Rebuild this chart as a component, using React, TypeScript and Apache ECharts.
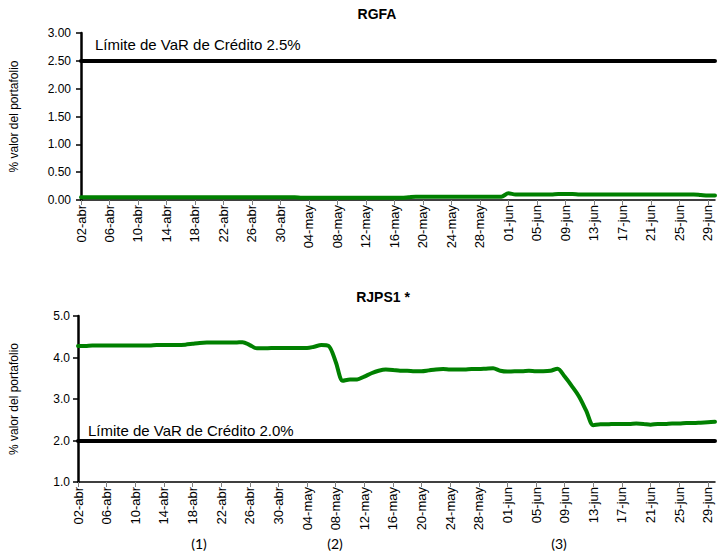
import React, { useEffect, useRef } from "react";
import * as echarts from "echarts";

const categories = [
  "02-abr", "03-abr", "04-abr", "05-abr", "06-abr", "07-abr", "08-abr", "09-abr", "10-abr", "11-abr",
  "12-abr", "13-abr", "14-abr", "15-abr", "16-abr", "17-abr", "18-abr", "19-abr", "20-abr", "21-abr",
  "22-abr", "23-abr", "24-abr", "25-abr", "26-abr", "27-abr", "28-abr", "29-abr", "30-abr",
  "01-may", "02-may", "03-may", "04-may", "05-may", "06-may", "07-may", "08-may", "09-may", "10-may",
  "11-may", "12-may", "13-may", "14-may", "15-may", "16-may", "17-may", "18-may", "19-may", "20-may",
  "21-may", "22-may", "23-may", "24-may", "25-may", "26-may", "27-may", "28-may", "29-may", "30-may", "31-may",
  "01-jun", "02-jun", "03-jun", "04-jun", "05-jun", "06-jun", "07-jun", "08-jun", "09-jun", "10-jun",
  "11-jun", "12-jun", "13-jun", "14-jun", "15-jun", "16-jun", "17-jun", "18-jun", "19-jun", "20-jun",
  "21-jun", "22-jun", "23-jun", "24-jun", "25-jun", "26-jun", "27-jun", "28-jun", "29-jun", "30-jun",
];

const rgfaValues = [
  0.05, 0.05, 0.05, 0.05, 0.05, 0.05, 0.05, 0.05, 0.05, 0.05,
  0.05, 0.05, 0.05, 0.05, 0.05, 0.05, 0.05, 0.05, 0.05, 0.05,
  0.05, 0.05, 0.05, 0.05, 0.05, 0.05, 0.05, 0.05, 0.05, 0.05,
  0.05, 0.04, 0.04, 0.04, 0.04, 0.04, 0.04, 0.04, 0.04, 0.04,
  0.04, 0.04, 0.04, 0.04, 0.04, 0.04, 0.05, 0.06, 0.06, 0.06,
  0.06, 0.06, 0.06, 0.06, 0.06, 0.06, 0.06, 0.06, 0.06, 0.06,
  0.12, 0.10, 0.10, 0.10, 0.10, 0.10, 0.10, 0.11, 0.11, 0.11,
  0.10, 0.10, 0.10, 0.10, 0.10, 0.10, 0.10, 0.10, 0.10, 0.10,
  0.10, 0.10, 0.10, 0.10, 0.10, 0.10, 0.10, 0.09, 0.08, 0.08,
];

const rjpsValues = [
  4.28, 4.28, 4.29, 4.29, 4.29, 4.29, 4.29, 4.29, 4.29, 4.29,
  4.29, 4.30, 4.30, 4.30, 4.30, 4.31, 4.33, 4.35, 4.36, 4.36,
  4.36, 4.36, 4.36, 4.37, 4.30, 4.22, 4.22, 4.23, 4.23, 4.23,
  4.23, 4.23, 4.23, 4.26, 4.30, 4.28, 3.90, 3.44, 3.47, 3.47,
  3.54, 3.62, 3.68, 3.71, 3.70, 3.68, 3.68, 3.67, 3.67, 3.69,
  3.71, 3.72, 3.71, 3.71, 3.71, 3.72, 3.72, 3.73, 3.74, 3.68,
  3.66, 3.67, 3.67, 3.68, 3.67, 3.67, 3.68, 3.73, 3.54, 3.31,
  3.06, 2.72, 2.37, 2.39, 2.39, 2.40, 2.40, 2.40, 2.41, 2.40,
  2.38, 2.40, 2.40, 2.41, 2.41, 2.42, 2.42, 2.43, 2.44, 2.45,
];

const rgfaLimit = 2.5;
const rjpsLimit = 2.0;
const rgfaLimitLabel = "Límite de VaR de Crédito 2.5%";
const rjpsLimitLabel = "Límite de VaR de Crédito 2.0%";
const titles = ["RGFA", "RJPS1 *"];
const yAxisName = "% valor del portafolio";
const footnotes = ["(1)", "(2)", "(3)"];

const FONT = "'Liberation Sans', Arial, sans-serif";
const GREEN = "#008000";

function buildOption() {
  const xAxis = [0, 1].map((i) => ({
    type: "category",
    gridIndex: i,
    data: categories,
    boundaryGap: false,
    axisLine: { show: true, lineStyle: { color: "#000", width: 1.5 } },
    axisTick: { show: true, interval: 3, length: 5, lineStyle: { color: "#808080", width: 1 } },
    axisLabel: { interval: 3, rotate: 90, fontSize: 13, color: "#000", margin: 5, fontFamily: FONT },
    splitLine: { show: false },
  }));
  const yCommon = {
    type: "value",
    name: yAxisName,
    nameLocation: "middle",
    nameTextStyle: { fontSize: 12, color: "#000", fontFamily: FONT },
    axisLine: { show: true, lineStyle: { color: "#000", width: 2.5 } },
    axisTick: { show: true, length: 5, lineStyle: { color: "#000", width: 1.5 } },
    splitLine: { show: false },
  };
  const yAxis = [
    {
      ...yCommon,
      gridIndex: 0,
      min: 0,
      max: 3,
      interval: 0.5,
      nameGap: 61,
      axisLabel: { formatter: (v: number) => v.toFixed(2), fontSize: 12, color: "#000", margin: 10, fontFamily: FONT },
    },
    {
      ...yCommon,
      gridIndex: 1,
      min: 1,
      max: 5,
      interval: 1,
      nameGap: 58,
      axisLabel: { formatter: (v: number) => v.toFixed(1), fontSize: 12, color: "#000", margin: 8, fontFamily: FONT },
    },
  ];
  const limitLine = (v: number) => ({
    silent: true,
    symbol: ["none", "none"],
    label: { show: false },
    lineStyle: { color: "#000", width: 4, type: "solid", cap: "round" },
    data: [{ yAxis: v }],
  });
  const lineSeries = (name: string, data: number[], idx: number, limit: number) => ({
    name,
    type: "line",
    xAxisIndex: idx,
    yAxisIndex: idx,
    data,
    symbol: "none",
    smooth: 0.3,
    lineStyle: { color: GREEN, width: 4, cap: "round", join: "round" },
    itemStyle: { color: GREEN },
    markLine: limitLine(limit),
  });
  const text = (t: string, x: number, y: number, opts: any = {}) => ({
    type: "text",
    x,
    y,
    style: {
      text: t,
      fontFamily: FONT,
      fontSize: 12,
      fill: "#000",
      textAlign: "left",
      textVerticalAlign: "middle",
      ...opts,
    },
  });
  return {
    animation: false,
    backgroundColor: "#fff",
    textStyle: { fontFamily: FONT },
    grid: [
      { left: 79, top: 33, width: 636, height: 167, containLabel: false },
      { left: 76, top: 316, width: 639, height: 166, containLabel: false },
    ],
    xAxis,
    yAxis,
    series: [
      lineSeries(titles[0], rgfaValues, 0, rgfaLimit),
      lineSeries(titles[1], rjpsValues, 1, rjpsLimit),
    ],
    graphic: [
      text(titles[0], 377, 14, { fontWeight: "bold", fontSize: 14, textAlign: "center" }),
      text(titles[1], 383, 297, { fontWeight: "bold", fontSize: 14, textAlign: "center" }),
      text(rgfaLimitLabel, 95, 44, { fontSize: 15 }),
      text(rjpsLimitLabel, 88, 430, { fontSize: 15 }),
      text(footnotes[0], 199, 543, { fontSize: 14, textAlign: "center", fontFamily: "Lato, 'Open Sans', sans-serif" }),
      text(footnotes[1], 335, 543, { fontSize: 14, textAlign: "center", fontFamily: "Lato, 'Open Sans', sans-serif" }),
      text(footnotes[2], 559, 543, { fontSize: 14, textAlign: "center", fontFamily: "Lato, 'Open Sans', sans-serif" }),
    ],
  };
}

export default function App() {
  const ref = useRef<HTMLDivElement>(null);
  useEffect(() => {
    if (!ref.current) return;
    const chart = echarts.init(ref.current, null, { renderer: "svg" });
    chart.setOption(buildOption() as any);
    return () => chart.dispose();
  }, []);
  return (
    <div
      ref={ref}
      style={{ position: "absolute", left: 0, top: 0, width: 717, height: 552, background: "#fff" }}
    />
  );
}
